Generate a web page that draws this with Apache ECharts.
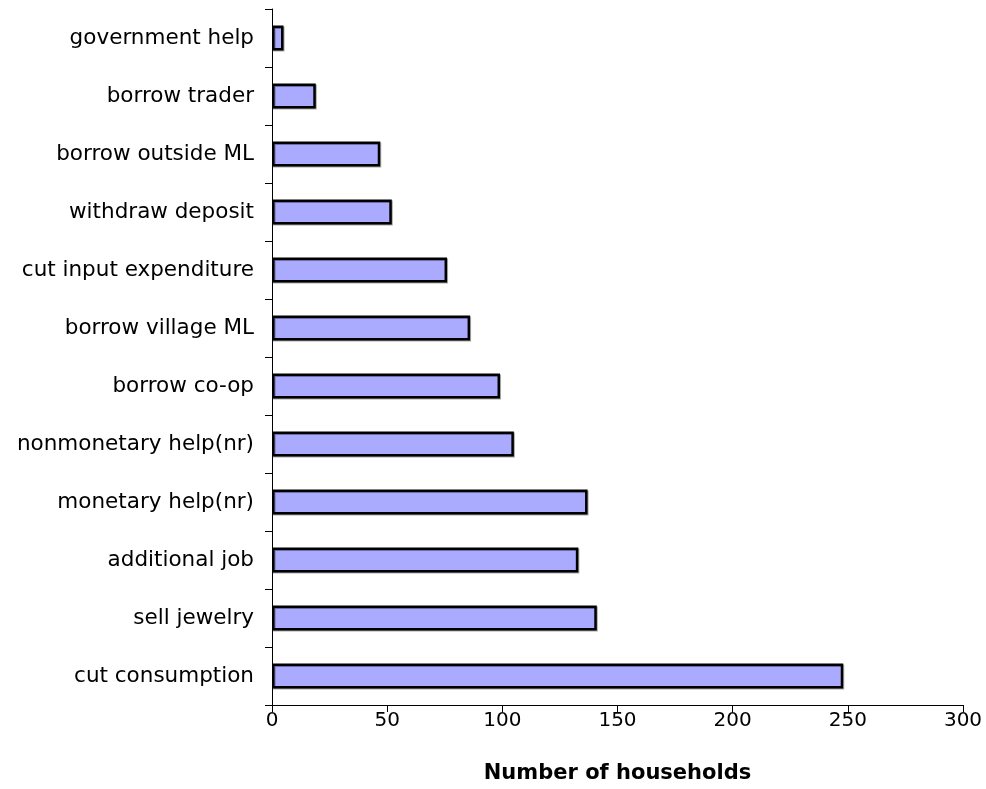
<!DOCTYPE html>
<html>
<head>
    <meta charset="utf-8">
    <title>Coping strategies</title>
    <script src="https://cdn.jsdelivr.net/npm/echarts@6/dist/echarts.min.js"></script>
    <style>
        html, body { margin: 0; padding: 0; background: #fff; }
        #main { width: 986px; height: 789px; }
    </style>
</head>
<body>
    <div id="main"></div>
    <script>
    // categories listed bottom to top (category axis starts at the bottom)
    var categories = [
        'cut consumption', 'sell jewelry', 'additional job', 'monetary help(nr)',
        'nonmonetary help(nr)', 'borrow co-op', 'borrow village ML', 'cut input expenditure',
        'withdraw deposit', 'borrow outside ML', 'borrow trader', 'government help'
    ];
    var households = [248, 141, 133, 137, 105, 99, 86, 76, 52, 47, 19, 5];
    var xTicks = [0, 300, 50];   // min, max, interval

    var myChart = echarts.init(document.getElementById('main'));
    var font = 'DejaVu Sans, Verdana, sans-serif';

    var option = {
        animation: false,
        grid: { left: 272, right: 23, top: 9, bottom: 82, containLabel: false },
        xAxis: {
            type: 'value',
            min: xTicks[0], max: xTicks[1], interval: xTicks[2],
            name: 'Number of households',
            nameLocation: 'middle',
            nameGap: 58,
            nameTextStyle: { fontFamily: font, fontSize: 21, fontWeight: 'bold', color: '#000' },
            axisLine: { show: true, lineStyle: { color: '#000', width: 1 } },
            axisTick: { show: true, length: 7, lineStyle: { color: '#000' } },
            axisLabel: { fontFamily: font, fontSize: 20, color: '#000', margin: 6 },
            splitLine: { show: false }
        },
        yAxis: {
            type: 'category',
            data: categories,
            axisLine: { show: true, lineStyle: { color: '#000', width: 1 } },
            axisTick: { show: true, length: 7, lineStyle: { color: '#000' } },
            axisLabel: { fontFamily: font, fontSize: 21.5, color: '#000', margin: 18 }
        },
        series: [{
            type: 'bar',
            data: households,
            barWidth: '43%',
            itemStyle: {
                color: '#aaaaff',
                borderColor: '#000',
                borderWidth: 2.5,
                shadowColor: 'rgba(0,0,0,0.35)',
                shadowOffsetX: 1,
                shadowOffsetY: 1
            }
        }]
    };

    myChart.setOption(option);
    </script>
</body>
</html>
